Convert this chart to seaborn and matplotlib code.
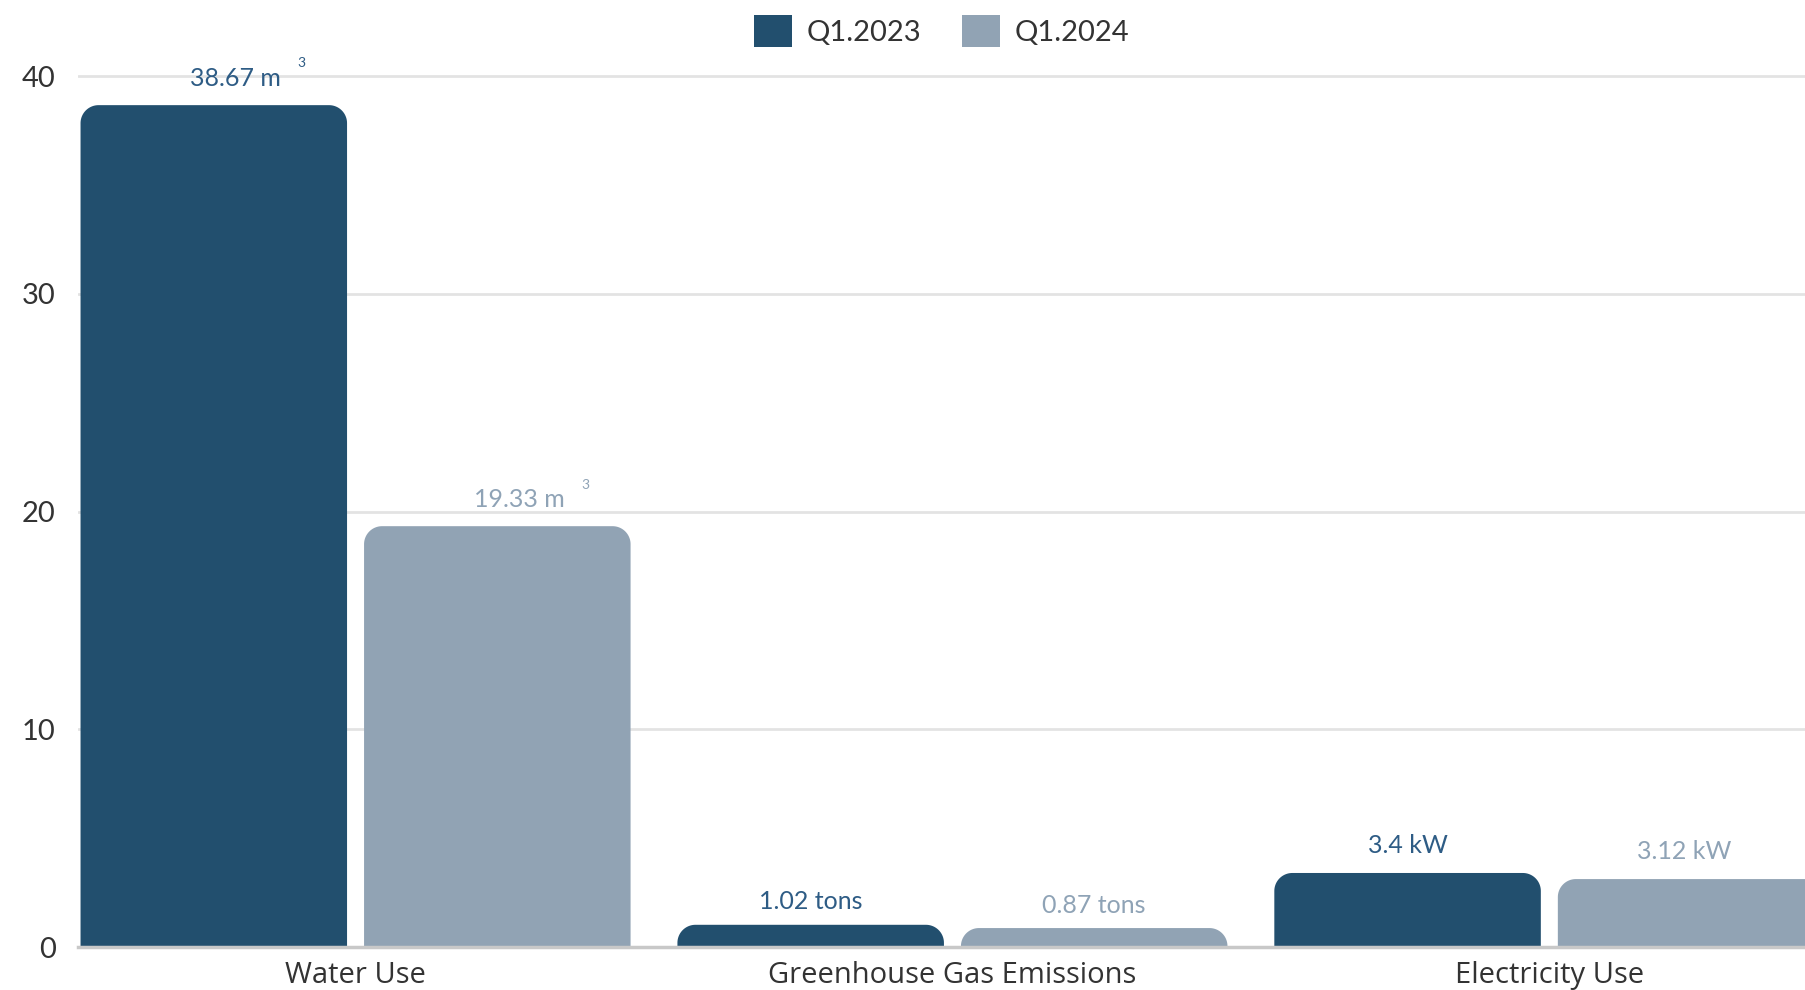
import numpy as np
import pandas as pd
import seaborn as sns
import matplotlib.pyplot as plt
from matplotlib.patches import Polygon, Patch

# chart values
categories = ['Water Use', 'Greenhouse Gas Emissions', 'Electricity Use']
periods = ['Q1.2023', 'Q1.2024']
q1_2023 = [38.67, 1.02, 3.4]
q1_2024 = [19.33, 0.87, 3.12]
labels_2023 = ['38.67 m', '1.02 tons', '3.4 kW']
labels_2024 = ['19.33 m', '0.87 tons', '3.12 kW']
superscript = ['3', '', '']

bar_colors = ['#224F6E', '#91A3B4']
text_colors = ['#2E5C85', '#8FA3B6']

df = pd.DataFrame({
    'category': categories * 2,
    'period': [periods[0]] * 3 + [periods[1]] * 3,
    'value': q1_2023 + q1_2024,
})

sns.set_style('white')
plt.rcParams['font.family'] = ['Lato', 'DejaVu Sans']

fig = plt.figure(figsize=(18.06, 9.9), dpi=100)
ax = fig.add_axes([78 / 1806, 43 / 990, 1 - 78 / 1806, 1 - 43 / 990])

sns.barplot(data=df, x='category', y='value', hue='period',
            palette=bar_colors, width=0.95, gap=0.06, ax=ax,
            saturation=1, legend=False, errorbar=None)

ax.set_xlim(-0.465, 2.43)
ax.set_ylim(0, 43.5)

# swap the plain bars for ones with rounded top corners
px_x = 597.0       # pixels per x unit
px_y = 870.0 / 40  # pixels per y unit
rad_px = 18.0
rx, ry = rad_px / px_x, rad_px / px_y
theta = np.linspace(0, np.pi / 2, 24)


def rounded_top(x0, w, h):
    ryh = min(ry, h)
    left = np.column_stack([x0 + rx - rx * np.cos(theta), h - ryh + ryh * np.sin(theta)])
    right = np.column_stack([x0 + w - rx + rx * np.sin(theta), h - ryh + ryh * np.cos(theta)])
    return np.vstack([[x0, 0], left, right, [x0 + w, 0]])


for patch in list(ax.patches):
    x0, w, h = patch.get_x(), patch.get_width(), patch.get_height()
    poly = Polygon(rounded_top(x0, w, h), closed=True,
                   facecolor=patch.get_facecolor(), edgecolor='none', zorder=2)
    ax.add_patch(poly)
    patch.set_visible(False)

# value labels
offsets = [[22, 0, 0], [22, 0, -7]]
lift = [[19, 17, 20], [19, 16, 20]]
all_vals = [q1_2023, q1_2024]
all_labels = [labels_2023, labels_2024]
for j, cont in enumerate(ax.containers):
    for i, bar in enumerate(cont):
        cx = bar.get_x() + bar.get_width() / 2
        top = all_vals[j][i]
        ax.annotate(all_labels[j][i], (cx, top),
                    xytext=(offsets[j][i] * 0.72, lift[j][i]),
                    textcoords='offset points', ha='center', va='center',
                    fontsize=18, color=text_colors[j], zorder=4,
                    annotation_clip=False)
        if superscript[i]:
            ax.annotate(superscript[i], (cx, top),
                        xytext=((offsets[j][i] + 66) * 0.72, lift[j][i] + 11),
                        textcoords='offset points', ha='center', va='center',
                        fontsize=10, color=text_colors[j], zorder=4)

# grid and axis styling
ax.set_yticks([0, 10, 20, 30, 40])
ax.yaxis.grid(True, color='#E3E3E3', linewidth=2)
ax.set_axisbelow(True)
for side in ['top', 'right', 'left']:
    ax.spines[side].set_visible(False)
ax.spines['bottom'].set_color('#C8C8C8')
ax.spines['bottom'].set_linewidth(2.5)
ax.spines['bottom'].set_zorder(5)
ax.tick_params(axis='both', length=0, labelsize=21, colors='#333333')
ax.tick_params(axis='y', pad=16)
ax.tick_params(axis='x', pad=10)
for lab in ax.get_xticklabels():
    lab.set_fontfamily(['Open Sans', 'DejaVu Sans'])
    lab.set_fontsize(21)
ax.set_xlabel('')
ax.set_ylabel('')

handles = [Patch(facecolor=c, edgecolor='none') for c in bar_colors]
leg = ax.legend(handles, periods, loc='upper center', bbox_to_anchor=(0.5, 1.012),
                ncol=2, frameon=False, fontsize=21, handlelength=1.3,
                handleheight=1.3, handletextpad=0.5, columnspacing=1.4)
for t in leg.get_texts():
    t.set_color('#333333')

fig.savefig('out.png', dpi=100)
